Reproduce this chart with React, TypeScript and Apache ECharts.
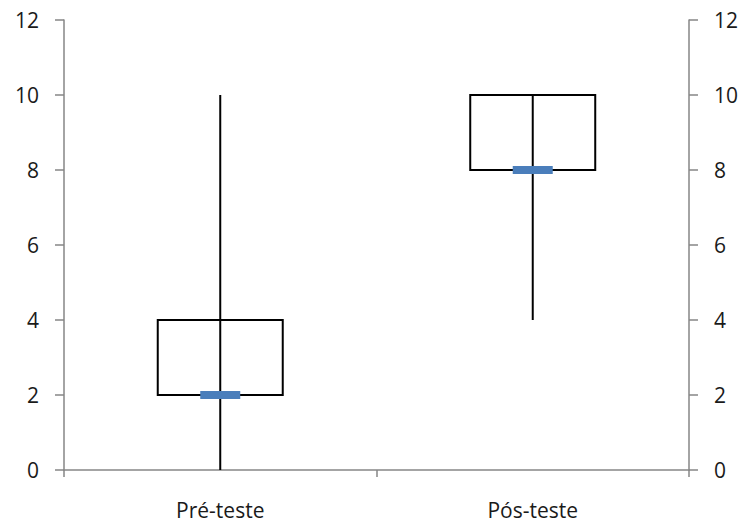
import React, { useEffect, useRef } from "react";
import * as echarts from "echarts";

const categories = ["Pré-teste", "Pós-teste"];
const mins = [0, 4];
const q1s = [2, 8];
const medians = [2, 8];
const q3s = [4, 10];
const maxs = [10, 10];
const yTicks = { min: 0, max: 12, interval: 2 };

export default function App() {
  const ref = useRef<HTMLDivElement>(null);
  useEffect(() => {
    if (!ref.current) return;
    const chart = echarts.init(ref.current, null, { renderer: "svg" });
    const data = categories.map((_, i) => [i, mins[i], q1s[i], medians[i], q3s[i], maxs[i]]);
    const axisCommon = {
      type: "value" as const,
      min: yTicks.min,
      max: yTicks.max,
      interval: yTicks.interval,
      splitLine: { show: false },
      axisLine: { show: true, lineStyle: { color: "#868686", width: 1.5 } },
      axisTick: { show: true, length: 9, lineStyle: { color: "#868686", width: 1.5 } },
      axisLabel: { color: "#1a1a1a", fontSize: 21, fontFamily: "Open Sans", margin: 25 },
    };
    chart.setOption({
      animation: false,
      backgroundColor: "#fff",
      grid: { left: 64, right: 52, top: 20, bottom: 53 },
      xAxis: {
        type: "category",
        data: categories,
        axisLine: { show: true, lineStyle: { color: "#868686", width: 1.5 } },
        axisTick: { show: true, length: 7, alignWithLabel: false, lineStyle: { color: "#868686", width: 1.5 } },
        axisLabel: { color: "#1a1a1a", fontSize: 21, fontFamily: "Open Sans", margin: 29 },
      },
      yAxis: [
        { ...axisCommon, position: "left" },
        { ...axisCommon, position: "right" },
      ],
      series: [
        {
          type: "custom",
          data,
          encode: { x: 0, y: [1, 2, 3, 4, 5] },
          renderItem: (params: any, api: any) => {
            const idx = api.value(0);
            const pMin = api.coord([idx, api.value(1)]);
            const pQ1 = api.coord([idx, api.value(2)]);
            const pMed = api.coord([idx, api.value(3)]);
            const pQ3 = api.coord([idx, api.value(4)]);
            const pMax = api.coord([idx, api.value(5)]);
            const band = api.size([1, 0])[0];
            const bw = band * 0.4;
            const mw = band * 0.128;
            const x = pMin[0];
            return {
              type: "group",
              children: [
                {
                  type: "rect",
                  shape: { x: x - bw / 2, y: pQ3[1], width: bw, height: pQ1[1] - pQ3[1] },
                  style: { fill: "none", stroke: "#000", lineWidth: 2 },
                },
                {
                  type: "line",
                  shape: { x1: x, y1: pMin[1], x2: x, y2: pMax[1] },
                  style: { stroke: "#000", lineWidth: 2 },
                },
                {
                  type: "rect",
                  shape: { x: x - mw / 2, y: pMed[1] - 4, width: mw, height: 8 },
                  style: { fill: "#4a7ebb", stroke: "none" },
                },
              ],
            };
          },
        },
      ],
    });
    return () => chart.dispose();
  }, []);
  return <div ref={ref} style={{ width: 741, height: 523, position: "absolute", left: 0, top: 0 }} />;
}
